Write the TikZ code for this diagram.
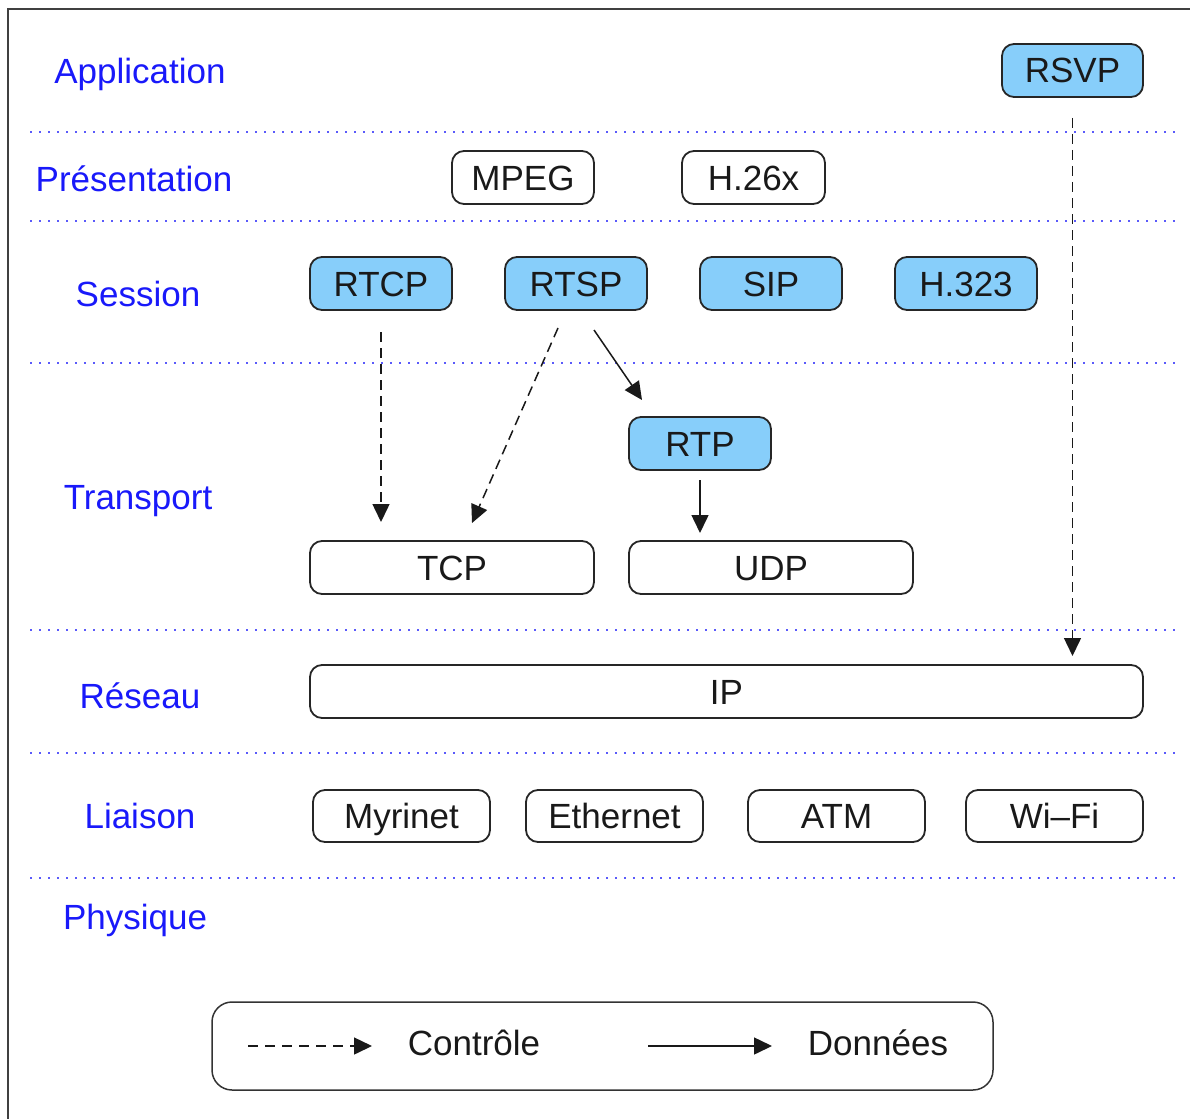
\documentclass[tikz,border=0pt]{standalone}
\usepackage{fontspec}
\setmainfont{Liberation Sans}
\usetikzlibrary{arrows.meta}
\definecolor{boxblue}{RGB}{135,206,250}
\definecolor{lblblue}{RGB}{25,25,250}
\definecolor{dotblue}{RGB}{90,90,250}
\tikzset{
  layer/.style={text=lblblue, font=\fontsize{35}{40}\selectfont, inner sep=0pt, text height=25pt, text depth=0pt},
  proto/.style={draw=black!85, line width=1.8pt, rounded corners=12pt, inner sep=0pt, outer sep=0pt,
    font=\fontsize{35}{40}\selectfont, text=black!90, text height=25pt, text depth=0pt},
  bluebox/.style={proto, fill=boxblue},
  sep/.style={dotblue, line width=2.2pt, dash pattern=on 2pt off 7pt},
  tip/.style={-{Triangle[length=18pt,width=17pt]}},
  ctrl/.style={tip, line width=1.5pt, dash pattern=on 10pt off 6pt, draw=black!90},
  data/.style={tip, line width=1.5pt, draw=black!90},
}
\begin{document}
\begin{tikzpicture}[x=1pt,y=-1pt]
\useasboundingbox (0,0) rectangle (1190,1118);
\draw[line width=2pt, black!75] (8,1130) -- (8,9) -- (1200,9);

% separators
\foreach \yy in {132,221,363,630,753,878}
  \draw[sep] (30,\yy) -- (1178,\yy);

% layer labels
\node[layer] (lapp) at (140,71) {Application};
\node[layer] (lpres) at (134,178.5) {Présentation};
\node[layer] (lses) at (138,294) {Session};
\node[layer] (ltrans) at (138,497) {Transport};
\node[layer] (lres) at (140,696) {Réseau};
\node[layer] (llia) at (140,816) {Liaison};
\node[layer] (lphy) at (135,917) {Physique};

% protocol boxes
\node[bluebox, minimum width=141pt, minimum height=53pt] (rsvp) at (1072.5,70.5) {RSVP};
\node[proto, minimum width=142pt, minimum height=53pt] (mpeg) at (523,177.5) {MPEG};
\node[proto, minimum width=143pt, minimum height=53pt] (h26x) at (753.5,177.5) {H.26x};
\node[bluebox, minimum width=142pt, minimum height=53pt] (rtcp) at (381,283.5) {RTCP};
\node[bluebox, minimum width=142pt, minimum height=53pt] (rtsp) at (576,283.5) {RTSP};
\node[bluebox, minimum width=142pt, minimum height=53pt] (sip) at (771,283.5) {SIP};
\node[bluebox, minimum width=142pt, minimum height=53pt] (h323) at (966,283.5) {H.323};
\node[bluebox, minimum width=142pt, minimum height=53pt] (rtp) at (700,443.5) {RTP};
\node[proto, minimum width=284pt, minimum height=53pt] (tcp) at (452,567.5) {TCP};
\node[proto, minimum width=284pt, minimum height=53pt] (udp) at (771,567.5) {UDP};
\node[proto, minimum width=833pt, minimum height=53pt] (ip) at (726.5,691.5) {IP};
\node[proto, minimum width=177pt, minimum height=52pt] (myri) at (401.5,816) {Myrinet};
\node[proto, minimum width=177pt, minimum height=52pt] (eth) at (614.5,816) {Ethernet};
\node[proto, minimum width=177pt, minimum height=52pt] (atm) at (836.5,816) {ATM};
\node[proto, minimum width=177pt, minimum height=52pt] (wifi) at (1054.5,816) {Wi\textendash Fi};

% connectors
\draw[ctrl] ([yshift=-22pt]rtcp.south) -- ([yshift=19pt]rtcp.south |- tcp.north);
\draw[ctrl] ([xshift=-18pt,yshift=-18pt]rtsp.south) -- ([xshift=20pt,yshift=18pt]tcp.north);
\draw[data] ([xshift=18pt,yshift=-20pt]rtsp.south) -- ([xshift=13pt,yshift=17pt]rtp.north west);
\draw[data] ([yshift=-10pt]rtp.south) -- ([yshift=8pt]rtp.south |- udp.north);
\draw[ctrl] ([yshift=-21pt]rsvp.south) -- ([yshift=9pt]rsvp.south |- ip.north);

% legend
\node[draw=black!80, line width=1.5pt, rounded corners=20pt, minimum width=781pt, minimum height=88pt, inner sep=0pt] (legend) at (602.5,1046) {};
\coordinate (c1) at (248,1046);
\coordinate (c2) at (372,1046);
\coordinate (d1) at (648,1046);
\coordinate (d2) at (772,1046);
\draw[ctrl, dash pattern=on 10pt off 7pt] (c1) -- (c2);
\draw[data] (d1) -- (d2);
\node[font=\fontsize{35}{40}\selectfont, text=black!90, inner sep=0pt, text height=25pt, text depth=0pt] (lctrl) at (474,1043) {Contrôle};
\node[font=\fontsize{35}{40}\selectfont, text=black!90, inner sep=0pt, text height=25pt, text depth=0pt] (ldata) at (878,1043) {Données};
\end{tikzpicture}
\end{document}
